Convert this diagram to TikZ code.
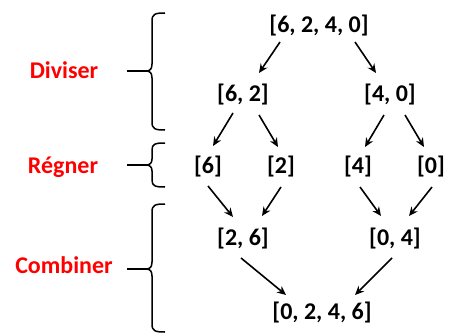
\documentclass[tikz,border=0pt]{standalone}
\usepackage{fontspec}
\setmainfont{Carlito}
\usetikzlibrary{arrows.meta,calc}
\tikzset{
  lst/.style={font=\fontsize{24}{28}\selectfont\bfseries, text=black, inner sep=0pt, anchor=base},
  lab/.style={font=\fontsize{24}{28}\selectfont\bfseries, text=red, inner sep=0pt, anchor=base},
  arr/.style={-{Stealth[length=9pt,width=8pt]}, line width=1.6pt},
  brace/.style={line width=1.5pt}
}
\begin{document}
\begin{tikzpicture}[x=1pt,y=-1pt]
\useasboundingbox (0,0) rectangle (454,334);
% nodes
\node[lst] (top) at (319,33) {[6, 2, 4, 0]};
\node[lst] (l62) at (243,102) {[6, 2]};
\node[lst] (r40) at (390,102) {[4, 0]};
\node[lst] (n6) at (208,173) {[6]};
\node[lst] (n2) at (281,173) {[2]};
\node[lst] (n4) at (358,173) {[4]};
\node[lst] (n0) at (431,173) {[0]};
\node[lst] (c26) at (243,245) {[2, 6]};
\node[lst] (c04) at (395,245) {[0, 4]};
\node[lst] (bot) at (322,319) {[0, 2, 4, 6]};
% labels
\node[lab] (div) at (64,79) {Diviser};
\node[lab] (reg) at (63,173) {Régner};
\node[lab] (com) at (64,273) {Combiner};
% arrows
\draw[arr] ($(top.base)+(-39,9)$) -- ($(l62.base)+(16,-29)$);
\draw[arr] ($(top.base)+(36,9)$) -- ($(r40.base)+(-14,-29)$);
\draw[arr] ($(l62.base)+(-10,11)$) -- ($(n6.base)+(5,-27)$);
\draw[arr] ($(l62.base)+(16,13)$) -- ($(n2.base)+(-3,-26)$);
\draw[arr] ($(r40.base)+(-6,13)$) -- ($(n4.base)+(7,-26)$);
\draw[arr] ($(r40.base)+(15,13)$) -- ($(n0.base)+(-7,-26)$);
\draw[arr] ($(n6.base)+(0,13)$) -- ($(c26.base)+(-10,-28)$);
\draw[arr] ($(n2.base)+(0,14)$) -- ($(c26.base)+(19,-29)$);
\draw[arr] ($(n4.base)+(2,14)$) -- ($(c04.base)+(-14,-29)$);
\draw[arr] ($(n0.base)+(1,14)$) -- ($(c04.base)+(14,-29)$);
\draw[arr] ($(c26.base)+(-2,13)$) -- ($(bot.base)+(-36,-24)$);
\draw[arr] ($(c04.base)+(-3,13)$) -- ($(bot.base)+(33,-24)$);
% braces
\draw[brace] (165,13) .. controls (155,13) and (152,14) .. (152,21) -- (152,64)
  .. controls (152,69) and (150,71) .. (146,71)
  .. controls (150,71) and (152,73) .. (152,78) -- (152,122)
  .. controls (152,129) and (155,130) .. (165,130);
\draw[brace] (127,71) -- (146,71);
\draw[brace] (165,143) .. controls (155,143) and (152,144) .. (152,150) -- (152,159)
  .. controls (152,163) and (150,165) .. (146,165)
  .. controls (150,165) and (152,167) .. (152,171) -- (152,180)
  .. controls (152,186) and (155,187) .. (165,187);
\draw[brace] (127,165) -- (146,165);
\draw[brace] (165,204) .. controls (155,204) and (152,205) .. (152,212) -- (152,262)
  .. controls (152,267) and (150,269) .. (146,269)
  .. controls (150,269) and (152,271) .. (152,276) -- (152,324)
  .. controls (152,331) and (155,332) .. (165,332);
\draw[brace] (127,269) -- (146,269);
\end{tikzpicture}
\end{document}
